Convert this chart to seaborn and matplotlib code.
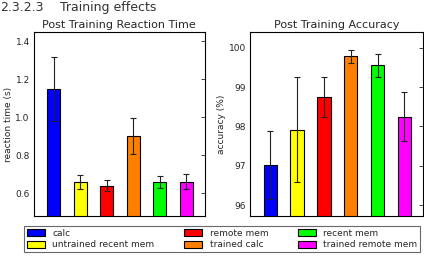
import numpy as np
import pandas as pd
import seaborn as sns
from matplotlib import pyplot as plt
from matplotlib.patches import Patch

# Conditions in bar order
conditions = ['calc', 'untrained recent mem', 'remote mem',
              'trained calc', 'recent mem', 'trained remote mem']
colors = ['#0000ff', '#ffff00', '#ff0000', '#ff8000', '#00ff00', '#ff00ff']

# Post training reaction time (s) and error
rt_mean = [1.15, 0.66, 0.64, 0.90, 0.66, 0.66]
rt_err = [0.17, 0.035, 0.03, 0.095, 0.03, 0.04]

# Post training accuracy (%) and error
acc_mean = [97.02, 97.92, 98.75, 99.78, 99.55, 98.25]
acc_err = [0.86, 1.33, 0.50, 0.17, 0.29, 0.62]


def draw_panel(ax, values, errors, title, ylabel, ylim, yticks):
    df = pd.DataFrame({'condition': conditions, 'value': values})
    sns.barplot(data=df, x='condition', y='value', hue='condition',
                palette=colors, order=conditions, hue_order=conditions,
                errorbar=None, width=0.5, edgecolor='black', linewidth=0.8,
                saturation=1, legend=False, ax=ax)
    ax.errorbar(np.arange(len(conditions)), values, yerr=errors, fmt='none',
                ecolor='#222222', elinewidth=0.8, capsize=2.5, capthick=0.8)
    ax.set_xlim(-0.75, len(conditions) - 0.3)
    ax.set_ylim(*ylim)
    ax.set_yticks(yticks)
    ax.set_xticks([])
    ax.set_xlabel('')
    ax.set_ylabel(ylabel, fontsize=6.5, labelpad=2)
    ax.set_title(title, fontsize=8, pad=3)
    ax.tick_params(axis='y', direction='in', right=True, labelsize=6.5,
                   length=3, width=0.6, pad=3)
    for s in ax.spines.values():
        s.set_visible(True)
        s.set_color('black')
        s.set_linewidth(0.8)


def main():
    sns.set_style('white')
    plt.rcParams['font.family'] = ['DejaVu Sans']

    fig = plt.figure(figsize=(4.24, 2.6), dpi=100)
    ax1 = fig.add_axes([0.080, 0.169, 0.403, 0.708])
    ax2 = fig.add_axes([0.590, 0.169, 0.408, 0.708])

    draw_panel(ax1, rt_mean, rt_err, 'Post Training Reaction Time',
               'reaction time (s)', (0.48, 1.45), [0.6, 0.8, 1.0, 1.2, 1.4])
    ax1.set_yticklabels(['0.6', '0.8', '1.0', '1.2', '1.4'])
    draw_panel(ax2, acc_mean, acc_err, 'Post Training Accuracy',
               'accuracy (%)', (95.72, 100.4), [96, 97, 98, 99, 100])

    """Shared legend underneath both panels"""
    handles = [Patch(facecolor=c, edgecolor='black', linewidth=0.8) for c in colors]
    leg = fig.legend(handles, conditions, ncol=3, mode='expand',
                     bbox_to_anchor=(0.057, 0.031, 0.934, 0.104),
                     loc='lower left', fontsize=6.5, frameon=True,
                     fancybox=False, handlelength=2.0, handleheight=0.8,
                     handletextpad=0.8, labelspacing=0.3, borderpad=0.3,
                     borderaxespad=0)
    leg.get_frame().set_edgecolor('#444444')
    leg.get_frame().set_linewidth(0.8)

    # section heading of the page above the figure
    fig.text(0.0, 0.998, '2.3.2.3', fontsize=9, ha='left', va='top',
             color='#333333')
    fig.text(0.142, 0.998, 'Training effects', fontsize=9, ha='left',
             va='top', color='#333333')

    fig.savefig('out.png', dpi=100)


if __name__ == '__main__':
    main()
